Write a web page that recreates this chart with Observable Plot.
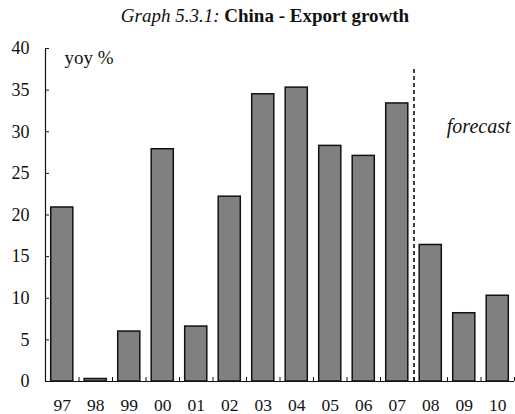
<!DOCTYPE html>
<html>
<head>
<meta charset="utf-8">
<script src="https://cdn.jsdelivr.net/npm/d3@7"></script>
<script src="https://cdn.jsdelivr.net/npm/@observablehq/plot@0.6"></script>
<style>
  body { margin: 0; background: white; width: 515px; height: 414px; overflow: hidden; }
  #title { height: 30px; box-sizing: border-box; padding-top: 5px; line-height: 22px; text-align: center;
           font-family: "Liberation Serif", "DejaVu Serif", serif; font-size: 19px; color: #111; padding-left: 15px; white-space: nowrap; }
  #title i { font-weight: normal; }
  #chart svg { display: block; }
</style>
</head>
<body>
<div id="title"><i>Graph 5.3.1:</i> <b>China - Export growth</b></div>
<div id="chart"></div>
<script>
const years = ["97","98","99","00","01","02","03","04","05","06","07","08","09","10"];
const growth = [20.9, 0.3, 6.0, 27.9, 6.6, 22.2, 34.5, 35.3, 28.3, 27.1, 33.4, 16.4, 8.2, 10.3];
const yTicks = [0, 5, 10, 15, 20, 25, 30, 35, 40];
const forecastFrom = "08";
const unitLabel = "yoy %";
const forecastLabel = "forecast";

const data = years.map((year, i) => ({year, i, v: growth[i]}));
const n = years.length;
const W = 515, H = 384, mL = 45, mR = 1, mT = 18, mB = 33;
const frameW = W - mL - mR, frameH = H - mT - mB;

const chart = Plot.plot({
  width: W, height: H,
  marginLeft: mL, marginRight: mR, marginTop: mT, marginBottom: mB,
  style: {fontFamily: "'Liberation Serif', 'DejaVu Serif', serif", fontSize: "18px", color: "#111", background: "white", overflow: "visible"},
  x: {domain: [-0.5, n - 0.5], label: null},
  y: {domain: [0, 40], label: null},
  marks: [
    Plot.rectY(data, {x1: d => d.i - 0.5, x2: d => d.i + 0.5, y: "v", insetLeft: 5.7, insetRight: 5.7,
      fill: "#808080", stroke: "#111", strokeWidth: 1.5}),
    Plot.ruleY([0], {stroke: "#111", strokeWidth: 1.2}),
    Plot.ruleX([-0.5], {stroke: "#111", strokeWidth: 1.2}),
    Plot.ruleY(yTicks, {insetRight: frameW - 4, stroke: "#111"}),
    Plot.ruleX(d3.range(n).map(i => i + 0.5), {insetTop: frameH - 4, stroke: "#111"}),
    Plot.axisX({ticks: d3.range(n), tickFormat: i => years[i], tickSize: 0, tickPadding: 17, fontSize: 17.5, label: null}),
    Plot.axisY({ticks: yTicks, tickSize: 0, tickPadding: 16, label: null}),
    Plot.ruleX([years.indexOf(forecastFrom) - 0.5], {insetTop: 21, strokeDasharray: "4,3", strokeWidth: 1.6, stroke: "#111"}),
    Plot.text([unitLabel], {frameAnchor: "top-left", dx: 19, dy: 2, textAnchor: "start", fontSize: 19}),
    Plot.text([forecastLabel], {frameAnchor: "top-right", dx: -4, dy: 70, textAnchor: "end", fontStyle: "italic", fontSize: 20})
  ]
});
document.getElementById("chart").appendChild(chart);
</script>
</body>
</html>
